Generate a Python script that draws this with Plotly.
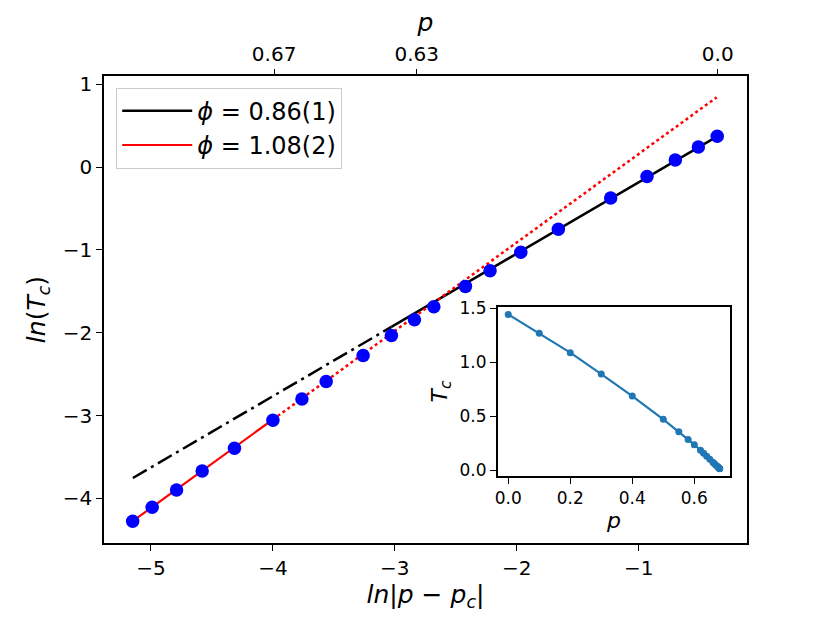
import plotly.graph_objects as go

# main panel: ln|p - pc| vs ln(Tc)
ln_dp = [-5.15, -4.99, -4.79, -4.58, -4.315, -4.0, -3.762, -3.563, -3.26, -3.028, -2.839,
         -2.68, -2.421, -2.219, -1.967, -1.659, -1.23, -0.932, -0.70, -0.511, -0.356]
ln_tc = [-4.275, -4.106, -3.899, -3.67, -3.393, -3.055, -2.80, -2.587, -2.275, -2.032, -1.844,
         -1.687, -1.44, -1.252, -1.028, -0.749, -0.373, -0.114, 0.086, 0.242, 0.372]

# fitted lines (phi = 0.86 and phi = 1.08)
fit1_dashdot_x = [-5.148, -3.028]
fit1_dashdot_y = [-3.753, -1.929]
fit1_solid_x = [-3.028, -0.356]
fit1_solid_y = [-1.929, 0.372]
fit2_solid_x = [-5.15, -4.0]
fit2_solid_y = [-4.275, -3.047]
fit2_dot_x = [-4.0, -0.361]
fit2_dot_y = [-3.047, 0.842]

# top axis labels for p
top_tickvals = [-3.99, -2.82, -0.352]
top_ticktext = ["0.67", "0.63", "0.0"]

# inset: Tc vs p
p_vals = [0.0, 0.1, 0.2, 0.3, 0.4, 0.5, 0.55, 0.58, 0.6, 0.62, 0.63,
          0.64, 0.65, 0.66, 0.665, 0.67, 0.675, 0.678, 0.68, 0.681, 0.682]
tc_vals = [1.445, 1.27, 1.09, 0.892, 0.688, 0.472, 0.358, 0.286, 0.237, 0.185, 0.158,
           0.131, 0.103, 0.075, 0.061, 0.047, 0.034, 0.0255, 0.020, 0.0165, 0.014]

FONT = "DejaVu Sans"

fig = go.Figure()

fig.add_trace(go.Scatter(x=fit1_dashdot_x, y=fit1_dashdot_y, mode="lines",
                         line=dict(color="black", width=2.5, dash="16px,5px,3px,5px"),
                         showlegend=False))
fig.add_trace(go.Scatter(x=fit1_solid_x, y=fit1_solid_y, mode="lines",
                         line=dict(color="black", width=2.5),
                         name="<i>ϕ</i> = 0.86(1)"))
fig.add_trace(go.Scatter(x=fit2_solid_x, y=fit2_solid_y, mode="lines",
                         line=dict(color="red", width=2.2),
                         name="<i>ϕ</i> = 1.08(2)"))
fig.add_trace(go.Scatter(x=fit2_dot_x, y=fit2_dot_y, mode="lines",
                         line=dict(color="red", width=2.5, dash="dot"),
                         showlegend=False))
fig.add_trace(go.Scatter(x=ln_dp, y=ln_tc, mode="markers",
                         marker=dict(color="blue", size=13.5),
                         showlegend=False))

# invisible trace to activate the top axis
fig.add_trace(go.Scatter(x=ln_dp, y=ln_tc, mode="markers", xaxis="x2",
                         marker=dict(opacity=0), hoverinfo="skip", showlegend=False))

# inset
fig.add_trace(go.Scatter(x=p_vals, y=tc_vals, mode="lines+markers", xaxis="x3", yaxis="y3",
                         line=dict(color="#1f77b4", width=2.2),
                         marker=dict(color="#1f77b4", size=7),
                         showlegend=False))

axis_common = dict(showgrid=False, zeroline=False, ticks="outside", tickcolor="black",
                   ticklen=6, tickwidth=1.2, color="black")

# page body adds an 8px margin, so the figure is 16px smaller than the window
fig.update_layout(
    width=814, height=607,
    margin=dict(l=96, r=75, t=67, b=61),
    paper_bgcolor="white", plot_bgcolor="white",
    font=dict(family=FONT, color="black"),
    xaxis=dict(range=[-5.385, -0.112], tickvals=[-5, -4, -3, -2, -1],
               showline=True, linecolor="black", linewidth=1.5, mirror=True,
               tickfont=dict(size=20),
               title=dict(text="<i>ln</i>|<i>p</i> − <i>p<sub>c</sub></i>|",
                          font=dict(size=25), standoff=6),
               **axis_common),
    yaxis=dict(range=[-4.538, 1.10], tickvals=[-4, -3, -2, -1, 0, 1],
               showline=True, linecolor="black", linewidth=1.5, mirror=True,
               tickfont=dict(size=20),
               title=dict(text="<i>ln</i>(<i>T<sub>c</sub></i>)",
                          font=dict(size=25), standoff=10),
               **axis_common),
    xaxis2=dict(range=[-5.385, -0.112], overlaying="x", side="top", anchor="y",
                tickvals=top_tickvals, ticktext=top_ticktext, showline=False,
                tickfont=dict(size=20),
                title=dict(text="<i>p</i>", font=dict(size=25), standoff=4),
                **axis_common),
    xaxis3=dict(domain=[0.6123, 0.974], anchor="y3", range=[-0.034, 0.716],
                tickvals=[0.0, 0.2, 0.4, 0.6], ticktext=["0.0", "0.2", "0.4", "0.6"],
                showline=True, linecolor="black", linewidth=1.5, mirror=True,
                tickfont=dict(size=17),
                title=dict(text="<i>p</i>", font=dict(size=22), standoff=2),
                **axis_common),
    yaxis3=dict(domain=[0.144, 0.505], anchor="x3", range=[-0.051, 1.512],
                tickvals=[0.0, 0.5, 1.0, 1.5], ticktext=["0.0", "0.5", "1.0", "1.5"],
                showline=True, linecolor="black", linewidth=1.5, mirror=True,
                tickfont=dict(size=17),
                title=dict(text="<i>T<sub>c</sub></i>", font=dict(size=22), standoff=6),
                **axis_common),
    legend=dict(x=0.019, y=0.975, xanchor="left", yanchor="top",
                bgcolor="white", bordercolor="#cccccc", borderwidth=1,
                itemwidth=70, font=dict(size=24)),
)

fig.write_html("out.html")
